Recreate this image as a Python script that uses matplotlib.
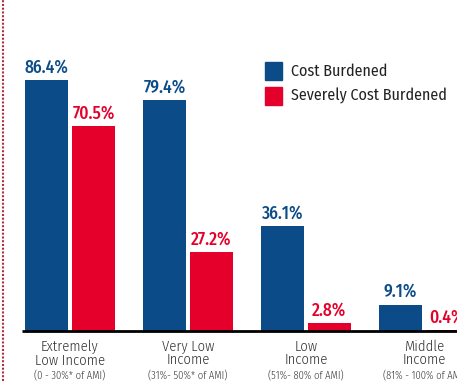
import numpy as np
import matplotlib
matplotlib.use('Agg')
import matplotlib.pyplot as plt
from matplotlib.lines import Line2D
from matplotlib.patches import Rectangle

categories = ['Extremely\nLow Income', 'Very Low\nIncome', 'Low\nIncome', 'Middle\nIncome']
ranges = ['(0 - 30%* of AMI)', '(31%- 50%* of AMI)', '(51%- 80% of AMI)', '(81% - 100% of AMI)']
cost_burdened = [86.4, 79.4, 36.1, 9.1]
severely_burdened = [70.5, 27.2, 2.8, 0.4]
series_names = ['Cost Burdened', 'Severely Cost Burdened']

BLUE = '#0b4c88'
RED = '#e5002b'

plt.rcParams['font.family'] = ['Fira Sans Condensed', 'DejaVu Sans']

W, H = 457, 381
fig = plt.figure(figsize=(W / 100, H / 100), dpi=100)
ax = fig.add_axes([0, 0, 1, 1])
ax.axis('off')

# pixel geometry -> data units
group_px = 118.0
x0_px = 70.0
base_px = 50.0
y_scale = 2.905
ax.set_xlim(-x0_px / group_px, (W - x0_px) / group_px)
ax.set_ylim(-base_px / y_scale, (H - base_px) / y_scale)

x = np.arange(len(categories))
width = 43 / group_px
off = 23.5 / group_px

ax.bar(x - off, cost_burdened, width, color=BLUE)
ax.bar(x + off, severely_burdened, width, color=RED)

for i in range(len(x)):
    ax.text(x[i] - off, cost_burdened[i] + 1.3, '%.1f%%' % cost_burdened[i],
            ha='center', va='bottom', color=BLUE, fontsize=12.5, fontweight=500)
    ax.text(x[i] + off, severely_burdened[i] + 1.3, '%.1f%%' % severely_burdened[i],
            ha='center', va='bottom', color=RED, fontsize=12.5, fontweight=500)
    ax.text(x[i], -3.0, categories[i], ha='center', va='top', color='#333333',
            fontsize=10.5, fontweight=300, linespacing=0.92)
    ax.text(x[i], -13.4, ranges[i], ha='center', va='top', color='#333333',
            fontsize=7.5, fontweight=300)

# baseline
ax.plot([(22 - x0_px) / group_px, (W - x0_px) / group_px], [0, 0],
        color='black', lw=2, solid_capstyle='butt')

# dotted left border
fig.add_artist(Line2D([3 / W, 3 / W], [0, 1], transform=fig.transFigure,
                      color='#b03040', lw=1.5, ls=(0, (1, 0.8))))

# legend
for k, (name, col) in enumerate(zip(series_names, [BLUE, RED])):
    top = 1 - (62 + k * 25) / H
    fig.add_artist(Rectangle((265 / W, top - 18 / H), 17 / W, 18 / H,
                             transform=fig.transFigure, color=col))
    fig.text(291 / W, top - 9 / H, name, va='center', ha='left',
             fontsize=11.5, color='#222222')

fig.savefig('out.png', dpi=100)
